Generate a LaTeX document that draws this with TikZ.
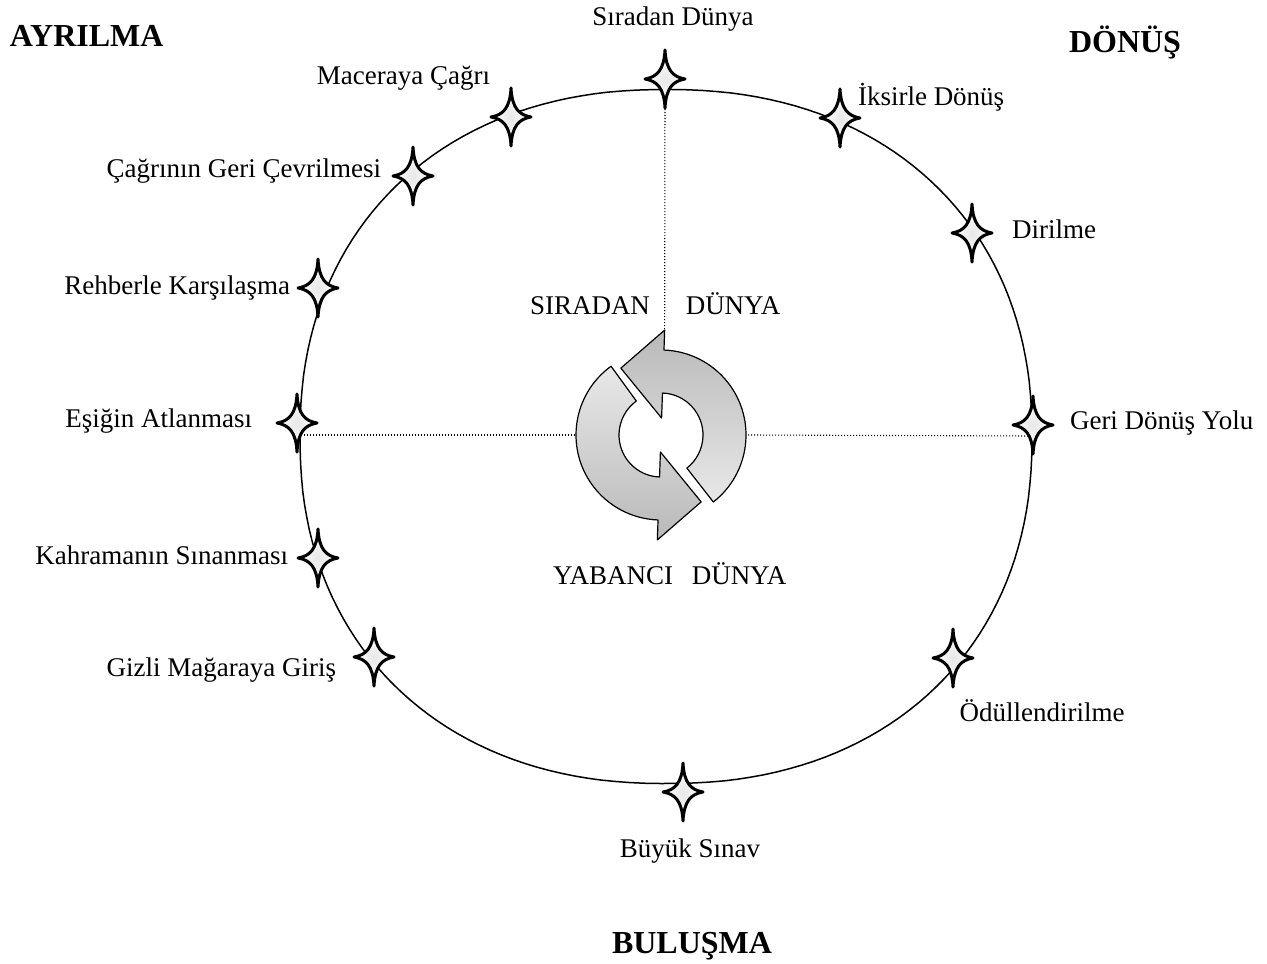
\documentclass[tikz,border=0pt]{standalone}
\usepackage{fontspec}
\setmainfont{Liberation Serif}
\begin{document}
\begin{tikzpicture}[x=0.5pt,y=-0.5pt,
  lbl/.style={font=\fontsize{13.5}{16}\selectfont, inner sep=0pt, outer sep=0pt},
  ttl/.style={font=\fontsize{16}{19}\selectfont\bfseries, inner sep=0pt, outer sep=0pt},
  dotline/.style={line width=0.55pt, dash pattern=on 0.6pt off 0.9pt},
  ringline/.style={line width=0.75pt},
  arr/.style={draw=black, line width=0.6pt, line join=round},
  pics/hstar/.style={code={
    \path[draw=black, line width=1.5pt, line join=round, inner color=gray!18, outer color=white]
      (0,29) .. controls (1,9) and (8,2) .. (20,0)
      .. controls (8,-2) and (1,-9) .. (0,-29)
      .. controls (-1,-9) and (-8,-2) .. (-20,0)
      .. controls (-8,2) and (-1,9) .. cycle;
    \coordinate (-c) at (0,0);
  }}]
\useasboundingbox (0,0) rectangle (1267,963);
\fill[white] (0,0) rectangle (1267,963);

% outer circle
\draw[ringline] plot[domain=0.5:360.5, samples=181]
  ({666+366*sign(cos(\x))*pow(abs(cos(\x)),0.909)},
   {436.5+347*sign(sin(\x))*pow(abs(sin(\x)),0.909)}) -- cycle;

% star positions
\coordinate (p1) at (665,79);
\coordinate (p2) at (511,117);
\coordinate (p3) at (413,176);
\coordinate (p4) at (318,288);
\coordinate (p5) at (297,423);
\coordinate (p6) at (318,558);
\coordinate (p7) at (374,657);
\coordinate (p8) at (683,792);
\coordinate (p9) at (953,658);
\coordinate (p10) at (1033,425);
\coordinate (p11) at (972,233);
\coordinate (p12) at (840,118);
\coordinate (thrW) at (301,435);
\coordinate (thrE) at (1032,436);

% central cycle arrows
\begin{scope}[shift={(661,435)}]
  \coordinate (topbarb) at (-88:105);
  \coordinate (ringW) at (180:86);
  \coordinate (ringE) at (0:87);
  \path[arr, top color=gray!55, bottom color=gray!18]
    (52:85) arc[start angle=52, end angle=-88, radius=85]
    -- (-88:105) -- (-121:78) -- (-88:17) -- (-88:42)
    arc[start angle=-88, end angle=52, radius=42] -- cycle;
  \path[arr, top color=gray!18, bottom color=gray!55]
    (-126:85) arc[start angle=-126, end angle=-268, radius=85]
    -- (-268:105) -- (-301:78) -- (-268:17) -- (-268:42)
    arc[start angle=-268, end angle=-126, radius=42] -- cycle;
\end{scope}

% dotted connectors
\draw[dotline] (p1) -- (topbarb);
\draw[dotline] (thrW) -- (ringW);
\draw[dotline] (ringE) -- (thrE);

% stars
\foreach \i in {1,...,12} { \pic (s\i) at (p\i) {hstar}; }

% titles
\node[ttl, anchor=base west] (tAyr) at (10,47) {AYRILMA};
\node[ttl, anchor=base] (tDon) at (1125,53) {DÖNÜŞ};
\node[ttl, anchor=base] (tBul) at (692,953) {BULUŞMA};

% labels
\node[lbl, anchor=base] (l1) at (673,26) {Sıradan Dünya};
\node[lbl, anchor=base east] (l2) at (490,84) {Maceraya Çağrı};
\node[lbl, anchor=base west] (l12) at (858,105) {İksirle Dönüş};
\node[lbl, anchor=base east] (l3) at (381,177) {Çağrının Geri Çevrilmesi};
\node[lbl, anchor=base west] (l11) at (1012,238) {Dirilme};
\node[lbl, anchor=base east] (l4) at (290,294) {Rehberle Karşılaşma};
\node[lbl, anchor=base] (w1) at (590,314) {SIRADAN};
\node[lbl, anchor=base] (w2) at (733,314) {DÜNYA};
\node[lbl, anchor=base east] (l5) at (252,427) {Eşiğin Atlanması};
\node[lbl, anchor=base west] (l10) at (1070,429) {Geri Dönüş Yolu};
\node[lbl, anchor=base east] (l6) at (288,564) {Kahramanın Sınanması};
\node[lbl, anchor=base] (w3) at (613,584) {YABANCI};
\node[lbl, anchor=base] (w4) at (739,584) {DÜNYA};
\node[lbl, anchor=base east] (l7) at (336,676) {Gizli Mağaraya Giriş};
\node[lbl, anchor=base] (l9) at (1042,721) {Ödüllendirilme};
\node[lbl, anchor=base] (l8) at (690,857) {Büyük Sınav};
\end{tikzpicture}
\end{document}
